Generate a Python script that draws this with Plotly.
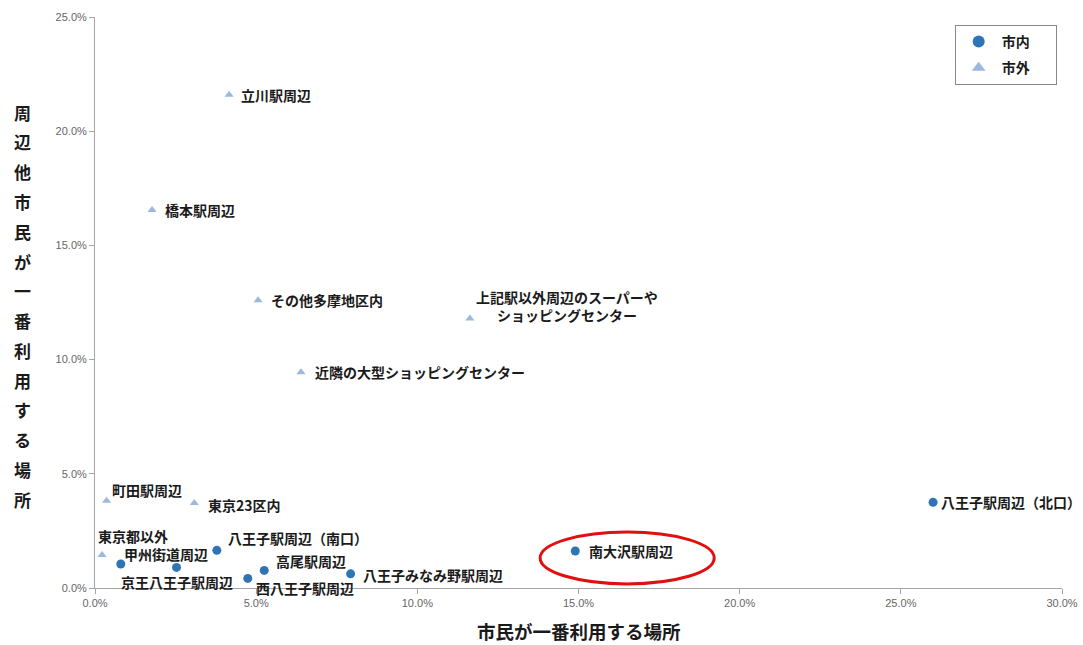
import plotly.graph_objects as go

# 市内 (inside the city): share of citizens, share of neighbouring-city residents (%)
inner_names = ["八王子駅周辺（北口）", "南大沢駅周辺", "八王子駅周辺（南口）", "甲州街道周辺",
               "京王八王子駅周辺", "西八王子駅周辺", "高尾駅周辺", "八王子みなみ野駅周辺"]
inner_x = [26.0, 14.9, 3.78, 0.8, 2.53, 4.74, 5.25, 7.93]
inner_y = [3.75, 1.62, 1.65, 1.05, 0.9, 0.42, 0.77, 0.62]

# 市外 (outside the city)
outer_names = ["立川駅周辺", "橋本駅周辺", "その他多摩地区内",
               "上記駅以外周辺のスーパーや<br>ショッピングセンター",
               "近隣の大型ショッピングセンター", "町田駅周辺", "東京23区内", "東京都以外"]
outer_x = [4.16, 1.77, 5.06, 11.63, 6.39, 0.36, 3.08, 0.22]
outer_y = [21.6, 16.55, 12.6, 11.8, 9.45, 3.82, 3.72, 1.45]

x_ticks = [0, 5, 10, 15, 20, 25, 30]
y_ticks = [0, 5, 10, 15, 20, 25]

x_title = "市民が一番利用する場所"
y_title = "周辺他市民が一番利用する場所"

# label placement: (xanchor, yanchor, xshift, yshift) in pixels
label_style = {
    "八王子駅周辺（北口）": ("left", "middle", 6, 0),
    "南大沢駅周辺": ("left", "middle", 12, 0),
    "八王子駅周辺（南口）": ("left", "middle", 9, 12),
    "甲州街道周辺": ("left", "middle", 1, 10),
    "京王八王子駅周辺": ("center", "middle", 0, -15),
    "西八王子駅周辺": ("left", "middle", 6, -10),
    "高尾駅周辺": ("left", "middle", 10, 9),
    "八王子みなみ野駅周辺": ("left", "middle", 10, -1),
    "立川駅周辺": ("left", "middle", 10, 0),
    "橋本駅周辺": ("left", "middle", 11, 0),
    "その他多摩地区内": ("left", "middle", 11, 0),
    "上記駅以外周辺のスーパーや<br>ショッピングセンター": ("center", "middle", 97, 12),
    "近隣の大型ショッピングセンター": ("left", "middle", 12, 0),
    "町田駅周辺": ("left", "middle", 3, 11),
    "東京23区内": ("left", "middle", 12, -2),
    "東京都以外": ("left", "middle", -6, 19),
}

# highlight ellipse around 南大沢駅周辺 (data units)
highlight_box = dict(x0=13.81, x1=19.21, y0=0.18, y1=2.45)

FONT = "Noto Sans CJK JP"
INNER_COLOR = "#2f74b5"
OUTER_COLOR = "#9cb8de"
LEGEND_PAD = "\u3000\u2002"

fig = go.Figure()
fig.add_trace(go.Scatter(
    x=inner_x, y=inner_y, mode="markers", name="<b>市内</b>" + LEGEND_PAD, legendgroup="inner",
    marker=dict(symbol="circle", size=9, color=INNER_COLOR),
))
fig.add_trace(go.Scatter(
    x=outer_x, y=outer_y, mode="markers", name="<b>市外</b>" + LEGEND_PAD, legendgroup="outer",
    marker=dict(symbol="triangle-up", size=8, color=OUTER_COLOR),
))

for names, xs, ys in ((inner_names, inner_x, inner_y), (outer_names, outer_x, outer_y)):
    for n, xv, yv in zip(names, xs, ys):
        xa, ya, dx, dy = label_style[n]
        fig.add_annotation(
            x=xv, y=yv, text=f"<b>{n}</b>", showarrow=False,
            xanchor=xa, yanchor=ya, xshift=dx, yshift=dy, align="center",
            font=dict(family=FONT, size=14, color="#1a1a1a"),
        )

fig.add_shape(type="circle", xref="x", yref="y", line=dict(color="#e01010", width=3),
              **highlight_box)

# vertical stacked y-axis title
plot_top, plot_bottom = 17, 588
plot_h = plot_bottom - plot_top
first_py, step_py = 112, 29.8
for i, ch in enumerate(y_title):
    py = first_py + i * step_py
    fig.add_annotation(
        x=-0.075, xref="paper", xanchor="center",
        y=(plot_bottom - py) / plot_h, yref="paper", yanchor="middle",
        text=f"<b>{ch}</b>", showarrow=False,
        font=dict(family=FONT, size=17, color="#1a1a1a"),
    )

# x-axis title
fig.add_annotation(
    x=0.5, xref="paper", xanchor="center",
    y=(plot_bottom - 631) / plot_h, yref="paper", yanchor="middle",
    text=f"<b>{x_title}</b>", showarrow=False,
    font=dict(family=FONT, size=18.5, color="#1a1a1a"),
)

fig.update_layout(
    width=1083, height=645,
    margin=dict(l=95, r=21, t=17, b=57, autoexpand=False),
    paper_bgcolor="white", plot_bgcolor="white",
    showlegend=True,
    legend=dict(
        x=0.889, y=(plot_bottom - 25) / plot_h, xanchor="left", yanchor="top",
        bordercolor="#888888", borderwidth=1, bgcolor="white",
        font=dict(family=FONT, size=14, color="#1a1a1a"),
        itemsizing="constant", itemwidth=36, tracegroupgap=5,
    ),
    font=dict(family=FONT),
)
fig.update_xaxes(
    range=[0, 30], tickvals=x_ticks, ticktext=[f"{v:.1f}%" for v in x_ticks],
    showgrid=False, zeroline=False, showline=True, linecolor="#a6a6a6", linewidth=1,
    ticks="outside", ticklen=5, tickcolor="#a6a6a6", automargin=False,
    tickfont=dict(family="Liberation Sans", size=11, color="#666666"),
)
fig.update_yaxes(
    range=[0, 25], tickvals=y_ticks, ticktext=[f"{v:.1f}%" for v in y_ticks],
    showgrid=False, zeroline=False, showline=True, linecolor="#a6a6a6", linewidth=1,
    ticks="outside", ticklen=5, tickcolor="#a6a6a6", automargin=False,
    tickfont=dict(family="Liberation Sans", size=11, color="#666666"),
)

fig.write_html("out.html")
